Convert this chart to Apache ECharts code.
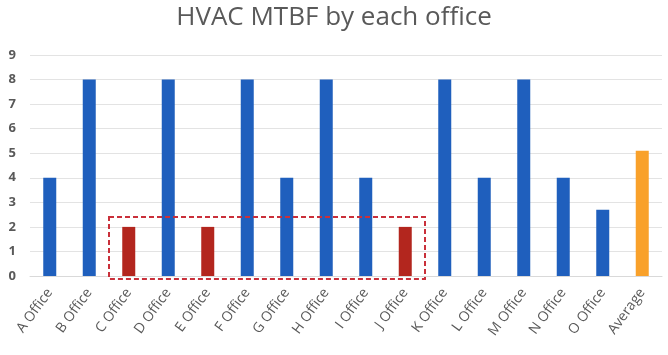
<!DOCTYPE html>
<html>
<head>
<meta charset="utf-8">
<script src="https://cdn.jsdelivr.net/npm/echarts@6/dist/echarts.min.js"></script>
<style>
  html, body { margin: 0; padding: 0; background: #fff; }
  #chart { width: 668px; height: 355px; }
</style>
</head>
<body>
<div id="chart"></div>
<script>
// data
var offices = ['A Office', 'B Office', 'C Office', 'D Office', 'E Office', 'F Office',
  'G Office', 'H Office', 'I Office', 'J Office', 'K Office', 'L Office',
  'M Office', 'N Office', 'O Office', 'Average'];
var mtbf = [4, 8, 2, 8, 2, 8, 4, 8, 4, 2, 8, 4, 8, 4, 2.7, 5.1];
var lowOffices = ['C Office', 'E Office', 'J Office'];
var boxFrom = 'C Office';
var boxTo = 'J Office';
var boxTop = 2.4;

var blue = '#1f5fbd';
var red = '#b3261e';
var orange = '#f9a12a';
var textColor = '#595959';

var chart = echarts.init(document.getElementById('chart'));

var barData = mtbf.map(function(v, i) {
  var c = blue;
  if (offices[i] === 'Average') {
    c = orange;
  } else if (lowOffices.indexOf(offices[i]) >= 0) {
    c = red;
  }
  return { value: v, itemStyle: { color: c } };
});

chart.setOption({
  animation: false,
  title: {
    text: 'HVAC MTBF by each office',
    left: 'center',
    top: 0,
    textStyle: {
      fontFamily: 'Open Sans',
      fontSize: 26,
      fontWeight: 'normal',
      color: textColor
    }
  },
  grid: { left: 30, right: 6, top: 55, bottom: 79 },
  xAxis: {
    type: 'category',
    data: offices,
    axisTick: { show: false },
    axisLine: { lineStyle: { color: '#d9d9d9' } },
    axisLabel: {
      rotate: 54,
      interval: 0,
      margin: 14,
      color: textColor,
      fontFamily: 'Open Sans',
      fontSize: 14
    }
  },
  yAxis: {
    type: 'value',
    min: 0,
    max: 9,
    interval: 1,
    axisLine: { show: false },
    axisTick: { show: false },
    splitLine: { lineStyle: { color: '#e3e3e3' } },
    axisLabel: {
      color: textColor,
      fontFamily: 'Open Sans',
      fontWeight: 'bold',
      fontSize: 13,
      margin: 14
    }
  },
  series: [{
    type: 'bar',
    data: barData,
    barWidth: 13
  }]
});

// dashed box around the low offices, placed from data coordinates
var i0 = offices.indexOf(boxFrom);
var i1 = offices.indexOf(boxTo);
var pA = chart.convertToPixel({ gridIndex: 0 }, [i0, boxTop]);
var pB = chart.convertToPixel({ gridIndex: 0 }, [i1, 0]);
var band = chart.convertToPixel({ gridIndex: 0 }, [1, 0])[0] -
  chart.convertToPixel({ gridIndex: 0 }, [0, 0])[0];
chart.setOption({
  graphic: [{
    type: 'rect',
    shape: {
      x: pA[0] - band / 2,
      y: pA[1],
      width: pB[0] - pA[0] + band,
      height: pB[1] - pA[1] + 3
    },
    style: {
      fill: 'none',
      stroke: '#c9303a',
      lineWidth: 2,
      lineDash: [5, 3]
    },
    z: 10
  }]
});
</script>
</body>
</html>
